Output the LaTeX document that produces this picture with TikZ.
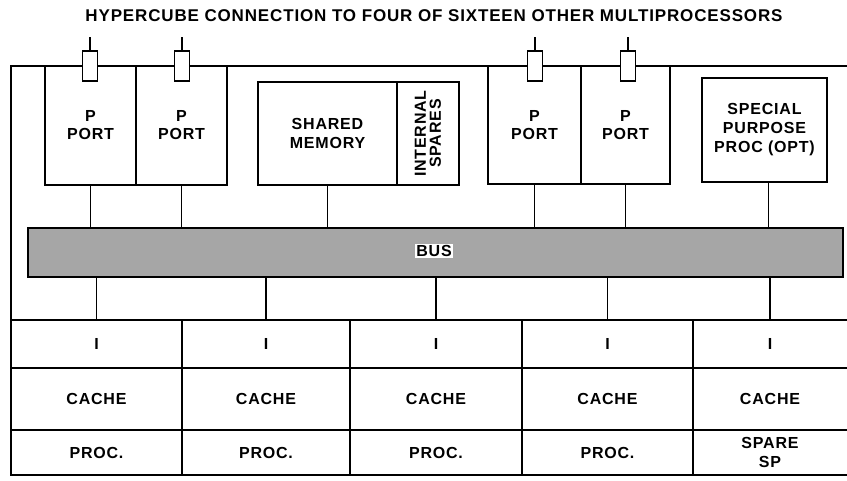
\documentclass[tikz,border=0pt]{standalone}
\usepackage{fontspec}
\setmainfont{Liberation Sans}[LetterSpace=5]
\begin{document}
\begin{tikzpicture}[x=1pt,y=-1pt,
  lbl/.style={font=\bfseries\fontsize{16}{18}\selectfont, align=center},
  box/.style={draw, line width=1.3pt, inner sep=0pt, outer sep=0pt, anchor=north west, lbl},
  tbox/.style={box, line width=2.4pt},
  cell/.style={inner sep=0pt, outer sep=0pt, anchor=north west, lbl},
  conn/.style={draw, line width=1.3pt, fill=white, inner sep=0pt, outer sep=0pt, minimum width=15pt, minimum height=30pt},
  wire/.style={line width=1.1pt},
  frame/.style={line width=1.6pt},
  grid/.style={line width=1.4pt}]
\useasboundingbox (0,0) rectangle (847,480);

% title
\node[lbl, font=\bfseries\fontsize{17}{19}\selectfont] (title) at (434,16)
  {HYPERCUBE CONNECTION TO FOUR OF SIXTEEN OTHER MULTIPROCESSORS};

% outer frame
\draw[frame] (847,66) -- (11,66) -- (11,475) -- (847,475);
\draw[grid, line width=1.8pt] (11,320) -- (847,320);
\draw[grid] (11,368) -- (847,368);
\draw[grid] (11,430) -- (847,430);
\foreach \x in {182,350,522,693} \draw[grid] (\x,320) -- (\x,475);

% top row units
\node[box, minimum width=91pt, minimum height=119pt] (pp1) at (45,66) {P\\PORT};
\node[box, minimum width=91pt, minimum height=119pt] (pp2) at (136,66) {P\\PORT};
\node[tbox, minimum width=139pt, minimum height=103pt, font=\bfseries\fontsize{16}{19}\selectfont] (shm) at (258,82) {SHARED\\MEMORY};
\node[tbox, minimum width=62pt, minimum height=103pt] (spr) at (397,82) {};
\node[lbl, rotate=90, font=\bfseries\fontsize{16}{15}\selectfont] (sprt) at (spr.center) {INTERNAL\\SPARES};
\node[box, minimum width=93pt, minimum height=118pt] (pp3) at (488,66) {P\\PORT};
\node[box, minimum width=89pt, minimum height=118pt] (pp4) at (581,66) {P\\PORT};
\node[tbox, minimum width=125pt, minimum height=104pt, font=\bfseries\fontsize{16}{19}\selectfont] (sp) at (702,78) {SPECIAL\\PURPOSE\\PROC (OPT)};

% hypercube connectors
\node[conn] (c1) at (90,66) {};
\node[conn] (c2) at (182,66) {};
\node[conn] (c3) at (535,66) {};
\node[conn] (c4) at (628,66) {};
\coordinate (t1) at (90,37);
\coordinate (t2) at (182,37);
\coordinate (t3) at (535,37);
\coordinate (t4) at (628,37);
\foreach \i in {1,2,3,4} \draw[wire, line width=1.3pt] (c\i.north) -- (t\i);

% bus
\node[box, line width=2.4pt, fill=black!35, minimum width=815pt, minimum height=49pt] (bus) at (28,228) {};
\node[lbl, fill=white, inner sep=1pt] (buslbl) at (434,251) {BUS};

% bottom cells
\node[cell, minimum width=171pt, minimum height=48pt] (i1) at (11,320) {I};
\node[cell, minimum width=168pt, minimum height=48pt] (i2) at (182,320) {I};
\node[cell, minimum width=172pt, minimum height=48pt] (i3) at (350,320) {I};
\node[cell, minimum width=171pt, minimum height=48pt] (i4) at (522,320) {I};
\node[cell, minimum width=154pt, minimum height=48pt] (i5) at (693,320) {I};
\node[cell, minimum width=171pt, minimum height=62pt] (k1) at (11,368) {CACHE};
\node[cell, minimum width=168pt, minimum height=62pt] (k2) at (182,368) {CACHE};
\node[cell, minimum width=172pt, minimum height=62pt] (k3) at (350,368) {CACHE};
\node[cell, minimum width=171pt, minimum height=62pt] (k4) at (522,368) {CACHE};
\node[cell, minimum width=154pt, minimum height=62pt] (k5) at (693,368) {CACHE};
\node[cell, minimum width=171pt, minimum height=45pt] (p1) at (11,430) {PROC.};
\node[cell, minimum width=168pt, minimum height=45pt] (p2) at (182,430) {PROC.};
\node[cell, minimum width=172pt, minimum height=45pt] (p3) at (350,430) {PROC.};
\node[cell, minimum width=171pt, minimum height=45pt] (p4) at (522,430) {PROC.};
\node[cell, minimum width=154pt, minimum height=45pt, font=\bfseries\fontsize{16}{19}\selectfont] (p5) at (693,430) {SPARE\\SP};

% connectors to bus
\draw[wire] (pp1.south) -- (pp1.south |- bus.north);
\draw[wire] (pp2.south) -- (pp2.south |- bus.north);
\draw[wire] (shm.south) -- (shm.south |- bus.north);
\draw[wire] (pp3.south) -- (pp3.south |- bus.north);
\draw[wire] (pp4.south) -- (pp4.south |- bus.north);
\draw[wire] ([xshift=4pt]sp.south) -- ([xshift=4pt]sp.south |- bus.north);
\foreach \i in {1,...,5} \draw[wire] (i\i.north |- bus.south) -- (i\i.north);
\end{tikzpicture}
\end{document}
